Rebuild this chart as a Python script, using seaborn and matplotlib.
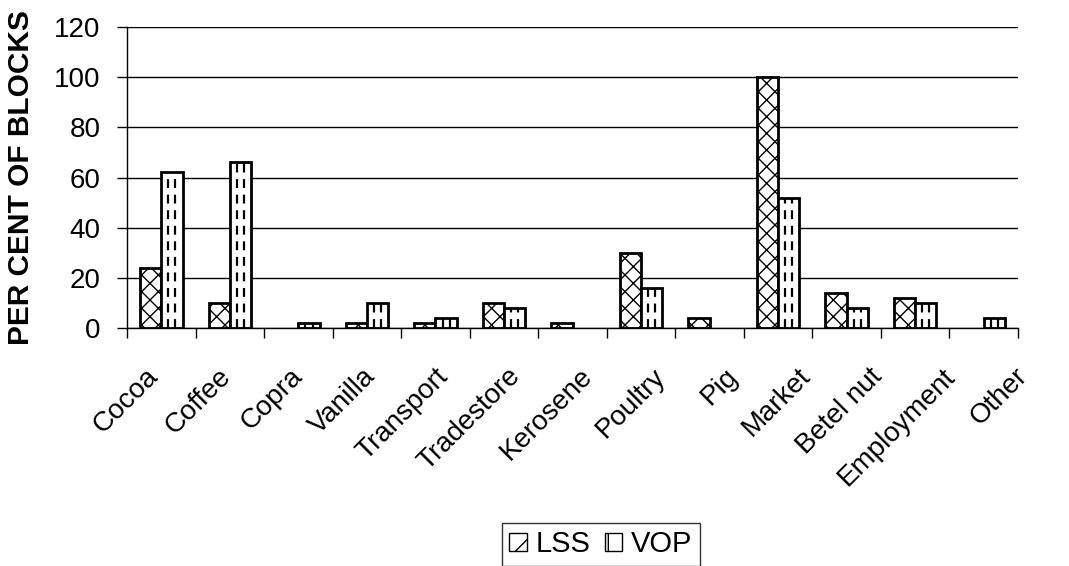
import pandas as pd
import numpy as np
import matplotlib
matplotlib.use("Agg")
import matplotlib.pyplot as plt
import matplotlib.transforms as mtransforms
from matplotlib.patches import Patch
import seaborn as sns

# values
categories = ['Cocoa', 'Coffee', 'Copra', 'Vanilla', 'Transport', 'Tradestore',
              'Kerosene', 'Poultry', 'Pig', 'Market', 'Betel nut', 'Employment', 'Other']
lss = [24, 10, 0, 2, 2, 10, 2, 30, 4, 100, 14, 12, 0]
vop = [62, 66, 2, 10, 4, 8, 0, 16, 0, 52, 8, 10, 4]
series = ['LSS', 'VOP']
yticks = [0, 20, 40, 60, 80, 100, 120]

df = pd.DataFrame({'Category': categories * 2,
                   'Group': ['LSS'] * len(categories) + ['VOP'] * len(categories),
                   'Value': lss + vop})

sns.set_style("white")
plt.rcParams['font.family'] = ['Liberation Sans', 'DejaVu Sans']
plt.rcParams['hatch.linewidth'] = 1.0
plt.rcParams['text.color'] = 'black'
plt.rcParams['axes.labelcolor'] = 'black'
plt.rcParams['xtick.color'] = 'black'
plt.rcParams['ytick.color'] = 'black'

fig = plt.figure(figsize=(10.69, 5.66), dpi=100)
ax = fig.add_axes([127 / 1069, 1 - 328 / 566, (1018 - 127) / 1069, (328 - 27) / 566])

sns.barplot(data=df, x='Category', y='Value', hue='Group', hue_order=series,
            order=categories, palette=['white', 'white'], width=0.62,
            edgecolor='black', linewidth=2.0, saturation=1, ax=ax, legend=False)

# LSS gets a cross hatch, VOP gets dashed vertical lines drawn inside the bar
for cont, name in zip(ax.containers, series):
    for bar in cont:
        h = bar.get_height()
        if h == 0:
            bar.set_visible(False)
            continue
        if name == 'LSS':
            bar.set_hatch('xx')
        else:
            x0, w = bar.get_x(), bar.get_width()
            for f in (1 / 3, 2 / 3):
                ax.plot([x0 + w * f, x0 + w * f], [0, h], color='black', lw=1.6,
                        dashes=(4, 3), zorder=bar.get_zorder() + 0.1)

ax.set_xlim(-0.5, len(categories) - 0.5)
ax.set_ylim(0, 120)
ax.set_yticks(yticks)
ax.yaxis.grid(True, color='black', linewidth=1.0)
ax.set_axisbelow(True)
for s in ['top', 'right']:
    ax.spines[s].set_visible(False)
for s in ['left', 'bottom']:
    ax.spines[s].set_color('black')
    ax.spines[s].set_linewidth(1.0)

ax.set_xticks(np.arange(len(categories)))
ax.set_xticklabels(categories, rotation=45, ha='right', va='center',
                   rotation_mode='anchor', fontsize=20)
ax.set_xticks(np.arange(len(categories) + 1) - 0.5, minor=True)
ax.tick_params(axis='x', which='major', length=0, pad=32)
ax.tick_params(axis='x', which='minor', length=7, width=1, color='black', direction='out', bottom=True)
ax.tick_params(axis='y', length=7, width=1, color='black', direction='out', left=True,
               labelsize=20, pad=12)

# the rotated labels drift a little to the right along the axis, like the original
for i, lab in enumerate(ax.get_xticklabels()):
    shift = mtransforms.ScaledTranslation((-7 + 3.9 * i) / 100, 0, fig.dpi_scale_trans)
    lab.set_transform(lab.get_transform() + shift)

ax.set_xlabel('')
ax.set_ylabel('PER CENT OF BLOCKS', fontsize=21.5, fontweight='bold')
ax.yaxis.set_label_coords(-0.1033, 0.5)

# legend handles
lss_handle = Patch(facecolor='white', edgecolor='black', hatch='/', label='LSS')
vop_handle = Patch(facecolor='white', edgecolor='black', hatch='|', label='VOP')
leg = fig.legend(handles=[lss_handle, vop_handle], loc='upper center',
                 bbox_to_anchor=(0.562, 1 - 523 / 566),
                 ncol=2, fontsize=21, frameon=True, fancybox=False, handlelength=0.6,
                 handleheight=0.6, handletextpad=0.3, columnspacing=0.5, borderpad=0.25,
                 borderaxespad=0)
leg.get_frame().set_edgecolor('black')
leg.get_frame().set_linewidth(1.0)

fig.savefig('out.png', dpi=100)
